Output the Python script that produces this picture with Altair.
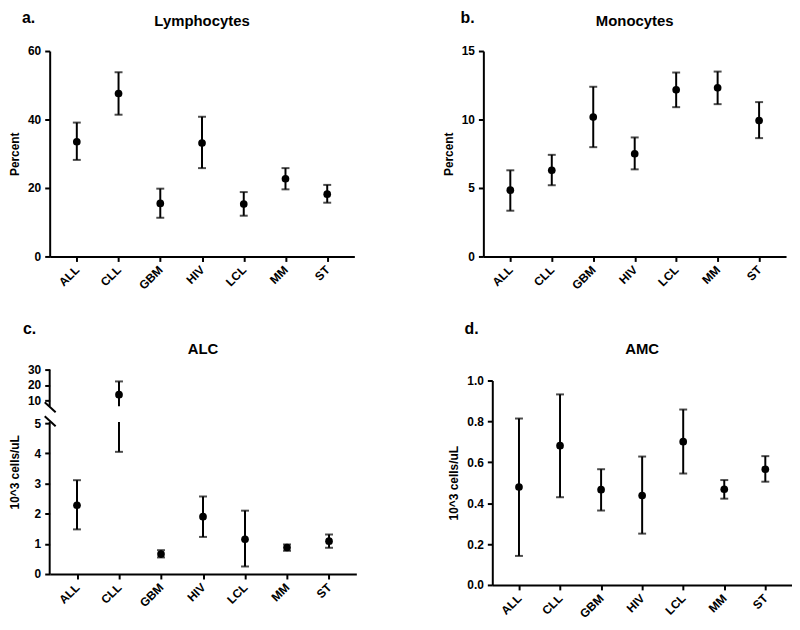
import altair as alt
import pandas as pd

categories = ["ALL", "CLL", "GBM", "HIV", "LCL", "MM", "ST"]

lymph_mean = [33.5, 47.6, 15.5, 33.1, 15.3, 22.7, 18.2]
lymph_hi = [39.1, 53.8, 19.8, 40.8, 18.8, 25.8, 20.9]
lymph_lo = [28.2, 41.4, 11.3, 25.8, 11.9, 19.6, 15.7]

mono_mean = [4.84, 6.29, 10.18, 7.5, 12.17, 12.31, 9.92]
mono_hi = [6.29, 7.42, 12.39, 8.69, 13.43, 13.5, 11.27]
mono_lo = [3.34, 5.2, 7.98, 6.36, 10.9, 11.12, 8.64]

alc_mean = [2.28, 13.7, 0.66, 1.9, 1.15, 0.88, 1.09]
alc_hi = [3.11, 22.3, 0.79, 2.57, 2.1, 0.98, 1.31]
alc_lo = [1.48, 4.05, 0.55, 1.23, 0.25, 0.77, 0.87]

amc_mean = [0.479, 0.681, 0.466, 0.437, 0.701, 0.468, 0.566]
amc_hi = [0.814, 0.932, 0.566, 0.628, 0.858, 0.513, 0.630]
amc_lo = [0.142, 0.429, 0.364, 0.251, 0.545, 0.422, 0.505]

# broken axis of panel c
alc_ticks = [0, 1, 2, 3, 4, 5, 10, 20, 30]
BREAK_LO = 5.25
BREAK_HI = 8.7

FONT = "Liberation Sans"


def panel(letter, title, means, his, los, ytitle, yscale, yaxis, width, height,
          title_y, letter_x, letter_y, extra=None, segments=None):
    df = pd.DataFrame({"cat": categories, "mean": means, "hi": his, "lo": los})
    xaxis = alt.Axis(title=None, labelAngle=315, labelAlign="right",
                     labelBaseline="middle", labelPadding=6)
    x = alt.X("cat:N", sort=categories,
              scale=alt.Scale(type="point", padding=0.65), axis=xaxis)

    def y(field):
        return alt.Y(field, type="quantitative", scale=yscale, axis=yaxis,
                     title=ytitle)

    if segments is None:
        seg_df = df[["cat", "lo", "hi"]]
    else:
        seg_df = segments
    rules = alt.Chart(seg_df).mark_rule(color="black", strokeWidth=2).encode(
        x=x, y=y("lo"), y2="hi")
    cap_hi = alt.Chart(df).mark_tick(color="black", thickness=2, size=8,
                                     orient="horizontal").encode(x=x, y=y("hi"))
    cap_lo = alt.Chart(df).mark_tick(color="black", thickness=2, size=8,
                                     orient="horizontal").encode(x=x, y=y("lo"))
    pts = alt.Chart(df).mark_circle(color="black", size=60, opacity=1).encode(
        x=x, y=y("mean"))
    lab = alt.Chart(pd.DataFrame({"label": [letter]})).mark_text(
        align="left", baseline="alphabetic", fontSize=16, fontWeight="bold",
        font=FONT, color="black").encode(
        x=alt.value(letter_x), y=alt.value(letter_y), text="label:N")
    ttl = alt.Chart(pd.DataFrame({"label": [title]})).mark_text(
        align="center", baseline="alphabetic", fontSize=15, fontWeight="bold",
        font=FONT, color="black").encode(
        x=alt.value(width / 2), y=alt.value(title_y), text="label:N")
    layers = [rules, cap_hi, cap_lo, pts, lab, ttl]
    if extra:
        layers += extra
    return alt.layer(*layers).properties(width=width, height=height)


# panel a
pa = panel("a.", "Lymphocytes", lymph_mean, lymph_hi, lymph_lo, "Percent",
           alt.Scale(domain=[0, 60], nice=False),
           alt.Axis(values=[0, 20, 40, 60], title="Percent"),
           307, 207, -25, -28, -28)

# panel b
pb = panel("b.", "Monocytes", mono_mean, mono_hi, mono_lo, "Percent",
           alt.Scale(domain=[0, 15], nice=False),
           alt.Axis(values=[0, 5, 10, 15], title="Percent"),
           305, 207, -25, -23, -28)

# panel c (broken axis)
H_C = 206
c_scale = alt.Scale(domain=[0, 5, 10, 30], range=[H_C, 54, 31, 0], nice=False)
c_axis = alt.Axis(values=alc_ticks, domain=False, title="10^3 cells/uL")

seg_rows = []
for c, lo, hi in zip(categories, alc_lo, alc_hi):
    if lo < BREAK_LO:
        seg_rows.append({"cat": c, "lo": lo, "hi": min(hi, BREAK_LO)})
    if hi > BREAK_HI:
        seg_rows.append({"cat": c, "lo": max(lo, BREAK_HI), "hi": hi})
seg_df = pd.DataFrame(seg_rows)

axis_df = pd.DataFrame({"y": [0, BREAK_HI], "y2": [BREAK_LO, 30]})
axis_lines = alt.Chart(axis_df).mark_rule(color="black", strokeWidth=2).encode(
    x=alt.value(0),
    y=alt.Y("y:Q", scale=c_scale, axis=c_axis, title="10^3 cells/uL"),
    y2="y2")
slash_df = pd.DataFrame({"k": [0]})
slash1 = alt.Chart(slash_df).mark_rule(color="black", strokeWidth=2).encode(
    x=alt.value(-5), x2=alt.value(6), y=alt.value(33), y2=alt.value(43))
slash2 = alt.Chart(slash_df).mark_rule(color="black", strokeWidth=2).encode(
    x=alt.value(-5), x2=alt.value(6), y=alt.value(47), y2=alt.value(57))

pc = panel("c.", "ALC", alc_mean, alc_hi, alc_lo, "10^3 cells/uL",
           c_scale, c_axis, 309, H_C, -16, -27, -36,
           extra=[axis_lines, slash1, slash2], segments=seg_df)

# panel d (plot area sits 11px lower than panel c's)
H_D = 217
D_TOP = 11
pd_ = panel("d.", "AMC", amc_mean, amc_hi, amc_lo, "10^3 cells/uL",
            alt.Scale(domain=[0, 1], nice=False, range=[H_D, D_TOP]),
            alt.Axis(values=[0, 0.2, 0.4, 0.6, 0.8, 1.0], format=".1f",
                     title="10^3 cells/uL"),
            302, H_D, -16, -28, -36)

chart = alt.vconcat(
    alt.hconcat(pa, pb, spacing=88),
    alt.hconcat(pc, pd_, spacing=92),
    spacing=29,
).properties(padding=0).configure_view(stroke=None).configure_axis(
    labelFont=FONT, labelFontSize=12, labelFontWeight="bold", labelColor="black",
    titleFont=FONT, titleFontSize=12, titleFontWeight="bold", titleColor="black",
    domainColor="black", domainWidth=2, tickColor="black", tickWidth=2,
    tickSize=5, grid=False, labelPadding=4, titlePadding=6,
).configure_axisX(labelPadding=6)

chart.save("out.html", embed_options={"renderer": "svg", "actions": False})
